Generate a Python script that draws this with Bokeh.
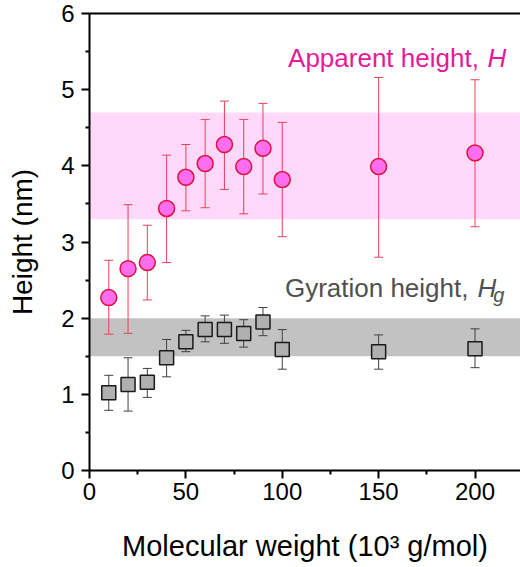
from bokeh.plotting import figure
from bokeh.models import (Whisker, TeeHead, BoxAnnotation, ColumnDataSource, FixedTicker,
                          LinearAxis, Label, Range1d)
from bokeh.embed import file_html
from bokeh.resources import INLINE

# ---- data ----
mw = [10, 20, 30, 40, 50, 60, 70, 80, 90, 100, 150, 200]
H_app = [2.27, 2.65, 2.73, 3.44, 3.85, 4.03, 4.28, 3.99, 4.23, 3.82, 3.99, 4.17]
H_app_hi = [2.76, 3.49, 3.22, 4.14, 4.28, 4.61, 4.85, 4.61, 4.82, 4.57, 5.16, 5.13]
H_app_lo = [1.79, 1.80, 2.24, 2.73, 3.41, 3.45, 3.69, 3.37, 3.63, 3.07, 2.80, 3.20]
H_gyr = [1.02, 1.13, 1.16, 1.48, 1.69, 1.85, 1.85, 1.80, 1.95, 1.59, 1.56, 1.60]
H_gyr_hi = [1.25, 1.48, 1.34, 1.72, 1.84, 2.03, 2.04, 1.98, 2.14, 1.85, 1.78, 1.86]
H_gyr_lo = [0.79, 0.78, 0.96, 1.23, 1.56, 1.69, 1.67, 1.62, 1.77, 1.33, 1.33, 1.35]
band_app = [3.3, 4.7]
band_gyr = [1.5, 2.0]
x_ticks = [0, 50, 100, 150, 200]
x_minor = [25, 75, 125, 175, 225]
y_ticks = [0, 1, 2, 3, 4, 5, 6]
y_minor = [0.5, 1.5, 2.5, 3.5, 4.5, 5.5]

FONT = "Liberation Sans"
PINK_TXT = "#e8189a"

p = figure(width=520, height=567, output_backend="svg", toolbar_location=None,
           x_range=Range1d(0, 223.6), y_range=Range1d(0, 6),
           min_border_left=89, min_border_right=0, min_border_top=13, min_border_bottom=97,
           x_axis_label="Molecular weight (10\u00b3 g/mol)", y_axis_label="Height (nm)")
p.outline_line_color = None
p.grid.visible = False
p.background_fill_color = "white"
p.border_fill_color = "white"

for ax, ticks, minor in ((p.xaxis[0], x_ticks, x_minor), (p.yaxis[0], y_ticks, y_minor)):
    ax.ticker = FixedTicker(ticks=ticks, minor_ticks=minor)
    ax.axis_line_width = 2
    ax.axis_line_color = "black"
    ax.major_tick_line_width = 2
    ax.minor_tick_line_width = 2
    ax.major_tick_line_color = "black"
    ax.minor_tick_line_color = "black"
    ax.major_tick_in = 0
    ax.minor_tick_in = 0
    ax.major_tick_out = 8
    ax.minor_tick_out = 4
    ax.major_label_text_font = FONT
    ax.major_label_text_font_size = "24px"
    ax.major_label_text_color = "black"
    ax.axis_label_text_font = FONT
    ax.axis_label_text_font_style = "normal"
    ax.axis_label_text_color = "black"

p.xaxis.axis_label_text_font_size = "29px"
p.yaxis.axis_label_text_font_size = "28px"
p.xaxis.major_label_standoff = 4
p.yaxis.major_label_standoff = 7
p.xaxis.axis_label_standoff = 27
p.yaxis.axis_label_standoff = 20

top_ax = LinearAxis(ticker=FixedTicker(ticks=[]), axis_line_width=2, axis_line_color="black",
                    major_tick_line_color=None, minor_tick_line_color=None,
                    major_label_text_font_size="0px")
p.add_layout(top_ax, "above")

# bands
p.add_layout(BoxAnnotation(bottom=band_app[0], top=band_app[1], fill_color="#ffd8fa",
                           fill_alpha=1, line_color=None, level="underlay"))
p.add_layout(BoxAnnotation(bottom=band_gyr[0], top=band_gyr[1], fill_color="#c2c2c2",
                           fill_alpha=1, line_color=None, level="underlay"))

src_a = ColumnDataSource(dict(x=mw, y=H_app, hi=H_app_hi, lo=H_app_lo))
src_g = ColumnDataSource(dict(x=mw, y=H_gyr, hi=H_gyr_hi, lo=H_gyr_lo))

p.add_layout(Whisker(source=src_a, base="x", upper="hi", lower="lo",
                     line_color="#e8405a", line_width=1,
                     upper_head=TeeHead(size=9, line_color="#e8405a", line_width=1),
                     lower_head=TeeHead(size=9, line_color="#e8405a", line_width=1)))
p.add_layout(Whisker(source=src_g, base="x", upper="hi", lower="lo",
                     line_color="#404040", line_width=1,
                     upper_head=TeeHead(size=9, line_color="#404040", line_width=1),
                     lower_head=TeeHead(size=9, line_color="#404040", line_width=1)))

p.scatter("x", "y", source=src_g, marker="square", size=14, fill_color="#b0b0b0",
          line_color="#1a1a1a", line_width=1.5)
p.scatter("x", "y", source=src_a, marker="circle", size=16, fill_color="#ff6ef0",
          line_color="#e0103c", line_width=1.5)

# annotations
p.add_layout(Label(x=202.0, y=5.42, text="Apparent height,", text_align="right",
                   text_baseline="alphabetic", text_font=FONT, text_font_size="26px",
                   text_color=PINK_TXT))
p.add_layout(Label(x=206.5, y=5.42, text="H", text_align="left", text_font_style="italic",
                   text_baseline="alphabetic", text_font=FONT, text_font_size="26px",
                   text_color=PINK_TXT))
p.add_layout(Label(x=196.6, y=2.40, text="Gyration height,", text_align="right",
                   text_baseline="alphabetic", text_font=FONT, text_font_size="26px",
                   text_color="#505050"))
p.add_layout(Label(x=201.3, y=2.40, text="H", text_align="left", text_font_style="italic",
                   text_baseline="alphabetic", text_font=FONT, text_font_size="26px",
                   text_color="#505050"))
p.add_layout(Label(x=209.4, y=2.30, text="g", text_align="left", text_font_style="italic",
                   text_baseline="alphabetic", text_font=FONT, text_font_size="20px",
                   text_color="#505050"))

open("out.html", "w").write(file_html(p, INLINE))
